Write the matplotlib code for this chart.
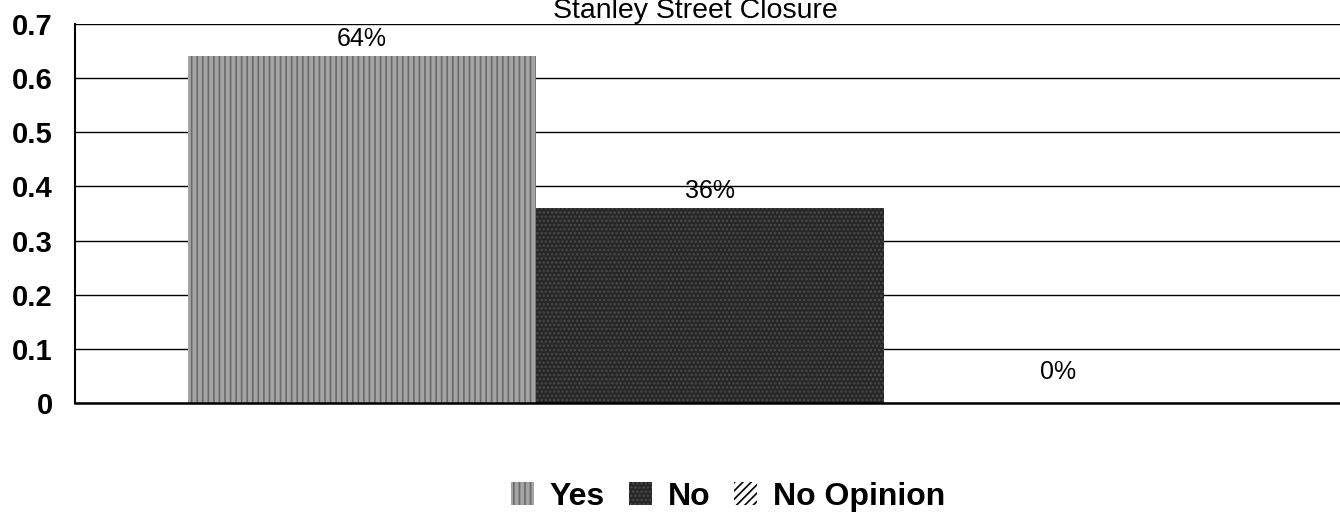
import matplotlib
matplotlib.use("Agg")
import matplotlib.pyplot as plt
from matplotlib.patches import Patch

categories = ["Yes", "No", "No Opinion"]
values = [0.64, 0.36, 0.0]
value_labels = ["64%", "36%", "0%"]
yticks = [0, 0.1, 0.2, 0.3, 0.4, 0.5, 0.6, 0.7]
ytick_labels = ["0", "0.1", "0.2", "0.3", "0.4", "0.5", "0.6", "0.7"]
title = "Stanley Street Closure"

plt.rcParams['font.family'] = ['Liberation Sans', 'DejaVu Sans']
plt.rcParams['hatch.linewidth'] = 1.2

fig = plt.figure(figsize=(13.4, 5.12), dpi=100)
ax = fig.add_axes([75/1340, 1 - 403/512, 1 - 75/1340, (403 - 24)/512])

faces = ["#a4a4a4", "#262626", "#ffffff"]
hatch_colors = ["#6a6a6a", "#4a4a4a", "#000000"]
hatches = ["|||", "....", "////"]

xs = list(range(len(categories)))
for x, v, fc, hc, h in zip(xs, values, faces, hatch_colors, hatches):
    ax.bar(x, v, width=1.0, color=fc, edgecolor=hc, hatch=h, linewidth=0, zorder=2)

for x, v, lab in zip(xs, values, value_labels):
    ax.annotate(lab, (x, v), xytext=(0, 4 if v > 0 else 14), textcoords="offset points",
                ha="center", va="bottom", fontsize=18, color="black")

ax.set_xlim(-0.825, 2.81)
ax.set_ylim(0, 0.7)
ax.set_yticks(yticks)
ax.set_yticklabels(ytick_labels, fontsize=21, fontweight="bold")
ax.tick_params(axis="y", length=0, pad=16)
ax.set_xticks([])
ax.yaxis.grid(True, color="black", linewidth=1.0, zorder=0)
ax.set_axisbelow(True)
for s in ["top", "right"]:
    ax.spines[s].set_visible(False)
ax.spines["left"].set_linewidth(1.5)
ax.spines["bottom"].set_linewidth(1.8)

fig.text(695/1340, 1 - 18/512, title, ha="center", va="baseline", fontsize=20.5)

handles = [Patch(facecolor=fc, edgecolor=hc, hatch=h, linewidth=0)
           for fc, hc, h in zip(faces, hatch_colors, hatches)]
fig.legend(handles, categories, loc="center", bbox_to_anchor=(728/1340, 1 - 497/512),
           ncol=3, frameon=False, prop={"size": 23, "weight": "bold"},
           handlelength=0.72, handleheight=0.72, handletextpad=0.5, columnspacing=0.75,
           borderpad=0, borderaxespad=0)

fig.savefig("out.png", dpi=100)
